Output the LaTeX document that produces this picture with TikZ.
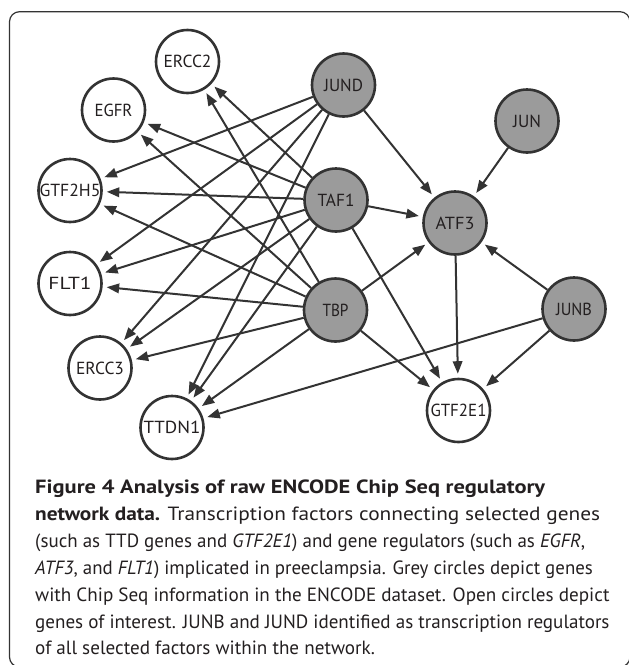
\documentclass[tikz,border=0pt]{standalone}
\usepackage{fontspec}
\setmainfont{PT Sans}
\usetikzlibrary{arrows.meta}
\definecolor{nodegrey}{HTML}{9B9B9B}
\definecolor{linegrey}{HTML}{333333}
\definecolor{txt}{HTML}{231F20}
\newlength\fitw
\newcommand\fitto[2]{\settowidth\fitw{#2}\pgfmathsetmacro\fitsx{#1/\fitw}\scalebox{\fitsx}[1]{#2}}
\AtBeginDocument{%
  \settowidth\fitw{\normalfont\fontsize{10}{12}\selectfont with Chip Seq information in the ENCODE dataset. Open circles depict}%
  \pgfmathsetmacro\capsize{10*574.3/\fitw}\global\let\capsize\capsize
  \settowidth\fitw{\normalfont\fontsize{10}{12}\selectfont ERCC2}%
  \pgfmathsetmacro\nodesize{10*48/\fitw}\global\let\nodesize\nodesize
}
\begin{document}
\begin{tikzpicture}[x=1pt,y=-1pt,
  gene/.style={circle, draw=linegrey, line width=2.6pt, minimum size=63pt, inner sep=0pt, font=\fontsize{\nodesize}{18}\selectfont, text=txt},
  chipgene/.style={gene, fill=nodegrey},
  opengene/.style={gene, fill=white},
  link/.style={draw=linegrey, line width=2pt, -{Triangle[length=12.5pt,width=9.5pt]}, shorten >=4pt},
  capline/.style={anchor=base west, inner sep=0pt, font=\fontsize{\capsize}{26}\selectfont, text=txt}
]
\useasboundingbox (0,0) rectangle (629,665);
\begin{scope}
\clip (0,0) rectangle (629,665);
\draw[line width=1.2pt, draw=black!80, rounded corners=10pt] (9.5,11.7) rectangle (630,667);
\end{scope}

% nodes
\node[opengene] (ERCC2) at (187.5,61.5) {\fitto{48}{ERCC2}};
\node[opengene] (EGFR) at (113.5,110) {\fitto{38}{EGFR}};
\node[opengene] (GTF2H5) at (70,190.5) {\fitto{61}{GTF2H5}};
\node[opengene] (FLT1) at (70,283.5) {\fitto{43}{FLT1}};
\node[opengene] (ERCC3) at (100,368) {\fitto{48}{ERCC3}};
\node[opengene] (TTDN1) at (172,427.5) {\fitto{57}{TTDN1}};
\node[opengene] (GTF2E1) at (458.5,410.5) {\fitto{56}{GTF2E1}};
\node[chipgene] (JUND) at (343.5,85) {\fitto{39}{JUND}};
\node[chipgene] (TAF1) at (336,200) {\fitto{37}{TAF1}};
\node[chipgene] (TBP) at (335.5,310) {\fitto{26}{TBP}};
\node[chipgene] (JUN) at (527,121) {\fitto{28}{JUN}};
\node[chipgene] (ATF3) at (455,223) {\fitto{39}{ATF3}};
\node[chipgene] (JUNB) at (574,309) {\fitto{36}{JUNB}};

% edges
\foreach \t in {GTF2H5,FLT1,ERCC3,TTDN1,ATF3} \draw[link] (JUND) -- (\t);
\foreach \t in {ERCC2,EGFR,GTF2H5,FLT1,ERCC3,TTDN1,ATF3,GTF2E1} \draw[link] (TAF1) -- (\t);
\foreach \t in {ERCC2,EGFR,GTF2H5,FLT1,ERCC3,TTDN1,ATF3,GTF2E1} \draw[link] (TBP) -- (\t);
\draw[link] (JUN) -- (ATF3);
\foreach \t in {ATF3,GTF2E1,TTDN1} \draw[link] (JUNB) -- (\t);
\draw[link] (ATF3) -- (GTF2E1);

% caption
\node[capline] (cap1) at (35,493.5) {\fitto{510}{\bfseries Figure 4 Analysis of raw ENCODE Chip Seq regulatory}};
\node[capline] (cap2) at (35,520.4) {\fitto{565}{\textbf{network data.} Transcription factors connecting selected genes}};
\node[capline] (cap3) at (35,547.3) {\fitto{550}{(such as TTD genes and \textit{GTF2E1}) and gene regulators (such as \textit{EGFR},}};
\node[capline] (cap4) at (35,574.2) {\fitto{557.7}{\textit{ATF3}, and \textit{FLT1}) implicated in preeclampsia. Grey circles depict genes}};
\node[capline] (cap5) at (35,601.1) {\fitto{574.3}{with Chip Seq information in the ENCODE dataset. Open circles depict}};
\node[capline] (cap6) at (35,628) {\fitto{574.3}{genes of interest. JUNB and JUND identified as transcription regulators}};
\node[capline] (cap7) at (35,654.9) {of all selected factors within the network.};
\end{tikzpicture}
\end{document}
